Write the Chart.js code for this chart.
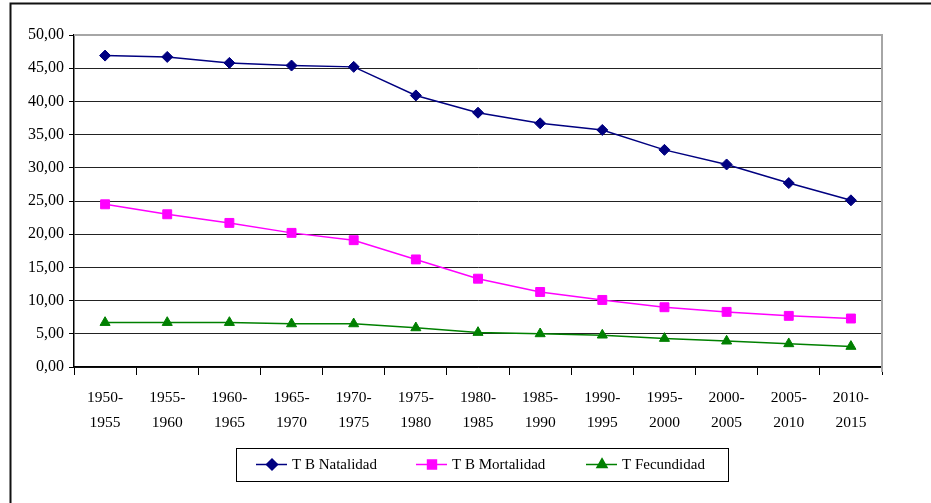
<!DOCTYPE html>
<html>
<head>
<meta charset="utf-8">
<script src="https://cdn.jsdelivr.net/npm/chart.js@4/dist/chart.umd.min.js"></script>
<style>
  html, body { margin: 0; padding: 0; background: #fff; }
  #wrap { position: relative; width: 931px; height: 503px; }
</style>
</head>
<body>
<div id="wrap"><canvas id="grafico" width="931" height="503"></canvas></div>
<script>
// Periodos quinquenales
const periodos = ['1950-1955', '1955-1960', '1960-1965', '1965-1970', '1970-1975', '1975-1980',
    '1980-1985', '1985-1990', '1990-1995', '1995-2000', '2000-2005', '2005-2010', '2010-2015'];

// Tasas
const natalidad = [46.9, 46.7, 45.8, 45.4, 45.2, 40.9, 38.3, 36.7, 35.7, 32.7, 30.5, 27.7, 25.1];
const mortalidad = [24.5, 23.0, 21.7, 20.2, 19.1, 16.2, 13.3, 11.3, 10.1, 9.0, 8.3, 7.7, 7.3];
const fecundidad = [6.7, 6.7, 6.7, 6.5, 6.5, 5.9, 5.2, 5.0, 4.8, 4.3, 3.9, 3.5, 3.1];

const nombres = ['T B Natalidad', 'T B Mortalidad', 'T Fecundidad'];
const yMin = 0, yMax = 50, yPaso = 5;

const fuente = "'Liberation Serif', 'Times New Roman', serif";
Chart.defaults.font.family = fuente;
Chart.defaults.font.size = 15;
Chart.defaults.color = '#000';

// Marco exterior, borde del area de trazado y leyenda propia
const marcoPlugin = {
    id: 'marco',
    beforeDraw(chart) {
        const ctx = chart.ctx;
        ctx.save();
        ctx.fillStyle = '#fff';
        ctx.fillRect(0, 0, chart.width, chart.height);
        ctx.strokeStyle = '#111';
        ctx.lineWidth = 2;
        ctx.beginPath();
        ctx.moveTo(10.5, chart.height);
        ctx.lineTo(10.5, 3.5);
        ctx.lineTo(chart.width, 3.5);
        ctx.stroke();
        ctx.restore();
    },
    afterDraw(chart) {
        const ctx = chart.ctx;
        const a = chart.chartArea;
        ctx.save();
        // borde gris del area de trazado
        ctx.strokeStyle = '#a6a6a6';
        ctx.lineWidth = 2;
        ctx.beginPath();
        ctx.moveTo(a.left, a.top);
        ctx.lineTo(a.right, a.top);
        ctx.lineTo(a.right, a.bottom + 5);
        ctx.stroke();

        // leyenda con recuadro
        const caja = { left: 236, top: 448, right: 728, bottom: 481 };
        ctx.strokeStyle = '#000';
        ctx.lineWidth = 1;
        ctx.strokeRect(caja.left + 0.5, caja.top + 0.5, caja.right - caja.left, caja.bottom - caja.top);
        ctx.font = '15px ' + fuente;
        ctx.textBaseline = 'middle';
        const yc = (caja.top + caja.bottom) / 2;
        const inicios = [256, 416, 586];
        chart.data.datasets.forEach((ds, i) => {
            const x0 = inicios[i];
            ctx.strokeStyle = ds.borderColor;
            ctx.lineWidth = 1.5;
            ctx.beginPath();
            ctx.moveTo(x0, yc);
            ctx.lineTo(x0 + 31, yc);
            ctx.stroke();
            ctx.fillStyle = ds.pointBackgroundColor;
            ctx.strokeStyle = ds.pointBorderColor;
            Chart.helpers.drawPoint(ctx, {
                pointStyle: ds.pointStyle, radius: ds.pointRadius, rotation: 0, borderWidth: 1
            }, x0 + 16, yc);
            ctx.fillStyle = '#000';
            ctx.fillText(ds.label, x0 + 36, yc + 1);
        });
        ctx.restore();
    }
};

function serie(etiqueta, datos, color, estilo, radio) {
    return {
        label: etiqueta,
        data: datos,
        borderColor: color,
        backgroundColor: color,
        pointBackgroundColor: color,
        pointBorderColor: color,
        borderWidth: 1.5,
        pointStyle: estilo,
        pointRadius: radio,
        pointBorderWidth: 1,
        tension: 0
    };
}

new Chart(document.getElementById('grafico'), {
    type: 'line',
    data: {
        labels: periodos.map(p => {
            const partes = p.split('-');
            return [partes[0] + '-', partes[1]];
        }),
        datasets: [
            serie(nombres[0], natalidad, '#000080', 'rectRot', 5.5),
            serie(nombres[1], mortalidad, '#ff00ff', 'rect', 6.3),
            serie(nombres[2], fecundidad, '#008000', 'triangle', 5.8)
        ]
    },
    plugins: [marcoPlugin],
    options: {
        responsive: false,
        animation: false,
        layout: { padding: { top: 35, right: 49, left: 0, bottom: 0 } },
        plugins: {
            legend: { display: false },
            tooltip: { enabled: false }
        },
        scales: {
            x: {
                offset: true,
                grid: {
                    offset: true,
                    drawOnChartArea: false,
                    color: '#000',
                    tickLength: 8,
                    tickWidth: 1
                },
                border: { color: '#000', width: 1.5 },
                ticks: {
                    autoSkip: false,
                    maxRotation: 0,
                    minRotation: 0,
                    padding: 10,
                    font: { size: 15.5, lineHeight: 1.65 }
                },
                afterFit(scale) { scale.height = 503 - 367; }
            },
            y: {
                min: yMin,
                max: yMax,
                ticks: {
                    stepSize: yPaso,
                    padding: 5,
                    font: { size: 16 },
                    callback: v => v.toFixed(2).replace('.', ',')
                },
                grid: {
                    color: ctx => (ctx.tick && ctx.tick.value === yMax) ? '#a6a6a6' : '#222',
                    lineWidth: 1,
                    tickLength: 5,
                    tickColor: '#000'
                },
                border: { color: '#000', width: 1.5 },
                afterFit(scale) { scale.width = 74; }
            }
        }
    }
});
</script>
</body>
</html>
